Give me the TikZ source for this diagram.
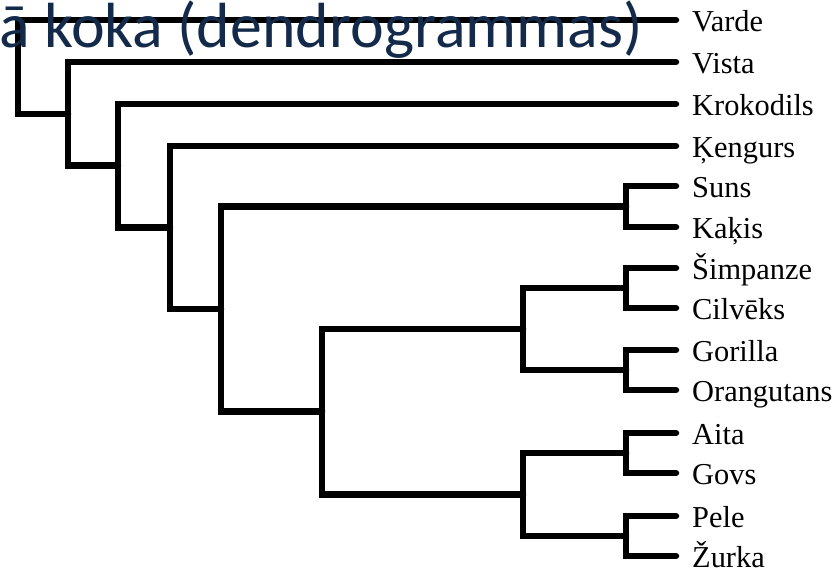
\documentclass[tikz,border=0pt]{standalone}
\usepackage{fontspec}
\setmainfont{Liberation Serif}
\newfontfamily\titlefont{Carlito}
\definecolor{titleblue}{HTML}{142A4B}
\begin{document}
\begin{tikzpicture}[x=1pt,y=-1pt,
  branch/.style={line width=6.5pt,line join=miter,line cap=round},
  leaflabel/.style={anchor=base west,inner sep=0pt,font=\fontsize{30.4}{30}\selectfont},
  titletext/.style={anchor=base west,inner sep=0pt,text=titleblue,font=\titlefont\fontsize{63.8}{64}\selectfont}]
\useasboundingbox (0,0) rectangle (836,569);
\fill[white] (0,0) rectangle (836,569);

% leaf tips and their labels
\foreach \name/\yy/\txt in {
  varde/20/Varde, vista/62/Vista, kroko/104/Krokodils, kengurs/146/Ķengurs,
  suns/186/Suns, kakis/227/Kaķis, simp/268/Šimpanze, cilv/308/Cilvēks,
  gor/350/Gorilla, orang/390/Orangutans, aita/433/Aita, govs/473/Govs,
  pele/516/Pele, zurka/556/Žurka}{
  \coordinate (t-\name) at (676,\yy);
  \node[leaflabel] (l-\name) at (692,\yy+11.4) {\txt};
}

% internal branching points
\coordinate (sk)     at (626,206.5);
\coordinate (sc)     at (626,288);
\coordinate (go)     at (626,370);
\coordinate (ag)     at (626,453);
\coordinate (pz)     at (626,536);
\coordinate (apes)   at (523,329);
\coordinate (others) at (523,494.5);
\coordinate (n5)     at (322,411.75);
\coordinate (n4)     at (221,309);
\coordinate (n3)     at (170,227.5);
\coordinate (n2)     at (118,165.75);
\coordinate (n1)     at (68,113.9);
\coordinate (root)   at (18,67);

% elbow connectors, parent to child
\foreach \p/\c in {
  root/t-varde, root/n1,
  n1/t-vista, n1/n2,
  n2/t-kroko, n2/n3,
  n3/t-kengurs, n3/n4,
  n4/sk, n4/n5,
  sk/t-suns, sk/t-kakis,
  n5/apes, n5/others,
  apes/sc, apes/go,
  sc/t-simp, sc/t-cilv,
  go/t-gor, go/t-orang,
  others/ag, others/pz,
  ag/t-aita, ag/t-govs,
  pz/t-pele, pz/t-zurka}{
  \draw[branch] (\p) |- (\c);
}

% heading, partly cut off at the left edge
\node[titletext] (title) at (-1,48) {ā koka (dendrogrammas)};
\end{tikzpicture}
\end{document}
